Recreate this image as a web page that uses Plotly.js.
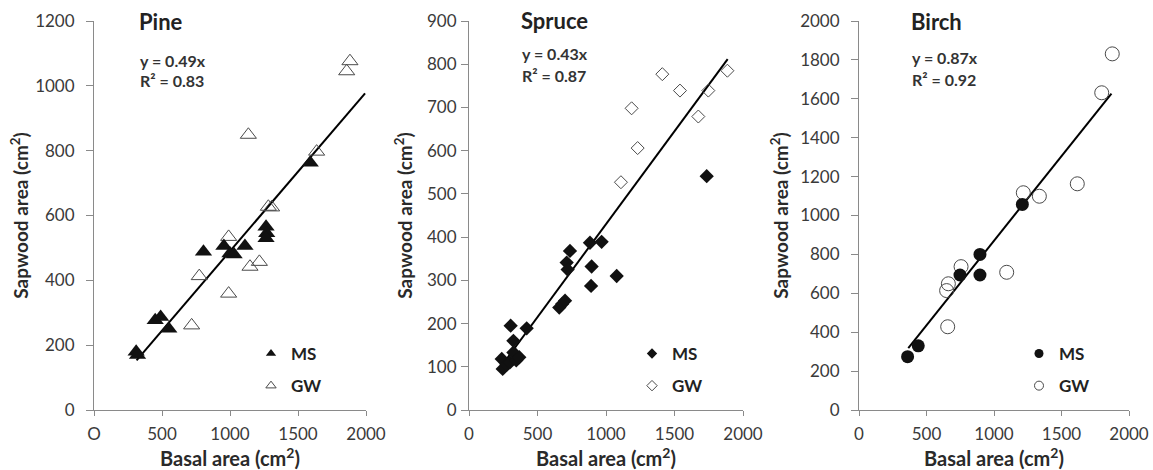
<!DOCTYPE html>
<html>
<head>
<meta charset="utf-8">
<script src="https://cdn.plot.ly/plotly-3.0.1.min.js"></script>
<style>html,body{margin:0;padding:0;background:#fff;}#chart{width:1153px;height:470px;}</style>
</head>
<body>
<div id="chart"></div>
<script>
// ---- Data ----
const panelNames = ['Pine', 'Spruce', 'Birch'];
const slopes = [0.49, 0.43, 0.87];
const r2 = [0.83, 0.87, 0.92];

const pineMsX = [310, 320, 450, 490, 550, 805, 955, 1000, 1030, 1110, 1265, 1270, 1265, 1590];
const pineMsY = [180, 170, 277, 287, 251, 488, 506, 483, 480, 506, 565, 545, 530, 763];
const pineGwX = [718, 774, 990, 990, 1135, 1147, 1216, 1282, 1306, 1637, 1858, 1882];
const pineGwY = [261, 413, 359, 534, 849, 442, 457, 627, 625, 797, 1045, 1076];
const pineFitX = [313, 1993];

const spruceMsX = [239, 246, 275, 299, 304, 324, 324, 345, 367, 421, 659, 680, 701, 713, 720, 737, 883, 891, 895, 968, 1078, 1735];
const spruceMsY = [118, 95, 105, 110, 195, 133, 160, 115, 122, 189, 237, 245, 253, 341, 325, 368, 387, 287, 332, 389, 310, 541];
const spruceGwX = [1109, 1187, 1231, 1411, 1540, 1674, 1747, 1886];
const spruceGwY = [527, 698, 606, 777, 739, 679, 739, 785];
const spruceFitX = [250, 1888];

const birchMsX = [360, 439, 748, 896, 896, 1210];
const birchMsY = [274, 330, 694, 694, 800, 1057];
const birchGwX = [657, 649, 662, 756, 1094, 1217, 1336, 1617, 1798, 1876];
const birchGwY = [428, 614, 649, 737, 708, 1117, 1099, 1163, 1631, 1831];
const birchFitX = [365, 1870];

const xTickVals = [0, 500, 1000, 1500, 2000];
const pineXTickText = ['O', '500', '1000', '1500', '2000'];
const stdXTickText = ['0', '500', '1000', '1500', '2000'];
const yRanges = [[0, 1200], [0, 900], [0, 2000]];
const yDticks = [200, 100, 200];

// ---- Styling ----
const FONT = 'Lato, "Open Sans", sans-serif';
const DARK = '#111111';
const OPEN = '#4a4a4a';

function fit(xs, k) { return xs.map(v => v * k); }

const traces = [];
function addPanel(i, msX, msY, gwX, gwY, fitX, msSym, gwSym, msSize, gwSize, legSize) {
  const xa = i === 0 ? 'x' : 'x' + (i + 1);
  const ya = i === 0 ? 'y' : 'y' + (i + 1);
  const lg = i === 0 ? 'legend' : 'legend' + (i + 1);
  traces.push({x: fitX, y: fit(fitX, slopes[i]), xaxis: xa, yaxis: ya, mode: 'lines',
    line: {color: '#000', width: 2}, showlegend: false, hoverinfo: 'skip'});
  traces.push({x: gwX, y: gwY, xaxis: xa, yaxis: ya, mode: 'markers', showlegend: false,
    marker: {symbol: gwSym, size: gwSize, color: OPEN, line: {color: OPEN, width: 1}}});
  traces.push({x: msX, y: msY, xaxis: xa, yaxis: ya, mode: 'markers', showlegend: false,
    marker: {symbol: msSym, size: msSize, color: DARK}});
  // legend entries
  traces.push({x: [null], y: [null], xaxis: xa, yaxis: ya, mode: 'markers', name: 'MS',
    legend: lg, legendgroup: lg + 'ms', marker: {symbol: msSym, size: legSize, color: DARK}});
  traces.push({x: [null], y: [null], xaxis: xa, yaxis: ya, mode: 'markers', name: 'GW',
    legend: lg, legendgroup: lg + 'gw', marker: {symbol: gwSym, size: legSize, color: OPEN, line: {color: OPEN, width: 1}}});
}
addPanel(0, pineMsX, pineMsY, pineGwX, pineGwY, pineFitX, 'triangle-up', 'triangle-up-open', 15, 14, 9);
addPanel(1, spruceMsX, spruceMsY, spruceGwX, spruceGwY, spruceFitX, 'diamond', 'diamond-open', 11, 10, 8);
addPanel(2, birchMsX, birchMsY, birchGwX, birchGwY, birchFitX, 'circle', 'circle-open', 13, 14, 9);

const xDomains = [[94 / 1153, 366 / 1153], [469 / 1153, 743 / 1153], [859 / 1153, 1129 / 1153]];
const yStandoffs = [1, 9, 6];
const yLabelStandoff = [8, 1, 8];

const layout = {
  width: 1153, height: 470,
  margin: {l: 0, r: 0, t: 21, b: 60},
  paper_bgcolor: '#fff', plot_bgcolor: '#fff',
  font: {family: FONT, color: '#333'},
  showlegend: true,
  annotations: []
};

for (let i = 0; i < 3; i++) {
  const sx = i === 0 ? '' : String(i + 1);
  layout['xaxis' + sx] = {
    domain: xDomains[i], range: [0, 2000], anchor: 'y' + sx,
    tickmode: 'array', tickvals: xTickVals, ticktext: i === 0 ? pineXTickText : stdXTickText,
    showgrid: false, zeroline: false, showline: true, linecolor: '#8a8a8a', linewidth: 1,
    ticks: 'outside', ticklen: 5, tickcolor: '#8a8a8a', ticklabelstandoff: 4,
    tickfont: {family: FONT, size: 17, color: '#3a3a3a'},
    title: {text: 'Basal area (cm<sup>2</sup>)', standoff: 9,
      font: {family: FONT, size: 20, color: '#2a2a2a', weight: 'bold'}},
    fixedrange: true
  };
  layout['yaxis' + sx] = {
    domain: [0, 1], range: yRanges[i], dtick: yDticks[i], anchor: 'x' + sx,
    showgrid: false, zeroline: false, showline: true, linecolor: '#8a8a8a', linewidth: 1,
    ticks: 'outside', ticklen: 7, tickcolor: '#8a8a8a', ticklabelstandoff: yLabelStandoff[i],
    tickfont: {family: FONT, size: 17, color: '#3a3a3a'},
    title: {text: 'Sapwood area (cm<sup>2</sup>)', standoff: yStandoffs[i],
      font: {family: FONT, size: 19, color: '#2a2a2a', weight: 'bold'}},
    fixedrange: true
  };
}

// panel titles and equations (positions in paper fractions)
const titleX = [137 / 1153, 519 / 1153, 909 / 1153];
const titleY = [(410 - 21) / 389, (410 - 20) / 389, (410 - 21) / 389];
const eqY = [(410 - 60) / 389, (410 - 53) / 389, (410 - 57) / 389];
const r2Y = [(410 - 80) / 389, (410 - 75) / 389, (410 - 79) / 389];
for (let i = 0; i < 3; i++) {
  layout.annotations.push({xref: 'paper', yref: 'paper', x: titleX[i], y: titleY[i],
    xanchor: 'left', yanchor: 'middle', showarrow: false, text: panelNames[i],
    font: {family: FONT, size: 22, color: '#222', weight: 'bold'}});
  layout.annotations.push({xref: 'paper', yref: 'paper', x: titleX[i] + 1 / 1153, y: eqY[i],
    xanchor: 'left', yanchor: 'middle', showarrow: false, text: 'y = ' + slopes[i].toFixed(2) + 'x',
    font: {family: FONT, size: 16, color: '#333', weight: 'bold'}});
  layout.annotations.push({xref: 'paper', yref: 'paper', x: titleX[i] + 1 / 1153, y: r2Y[i],
    xanchor: 'left', yanchor: 'middle', showarrow: false, text: 'R² = ' + r2[i].toFixed(2),
    font: {family: FONT, size: 16, color: '#333', weight: 'bold'}});
}

const legX = [251 / 1153, 632 / 1153, 1019 / 1153];
const legY = [(410 - 336) / 389, (410 - 336) / 389, (410 - 336) / 389];
['legend', 'legend2', 'legend3'].forEach((k, i) => {
  layout[k] = {x: legX[i], y: legY[i], xanchor: 'left', yanchor: 'top',
    xref: 'paper', yref: 'paper', bgcolor: 'rgba(0,0,0,0)', borderwidth: 0,
    traceorder: 'grouped', tracegroupgap: 7,
    font: {family: FONT, size: 17, color: '#222', weight: 'bold'}};
});

Plotly.newPlot('chart', traces, layout, {displayModeBar: false, staticPlot: true});
</script>
</body>
</html>
